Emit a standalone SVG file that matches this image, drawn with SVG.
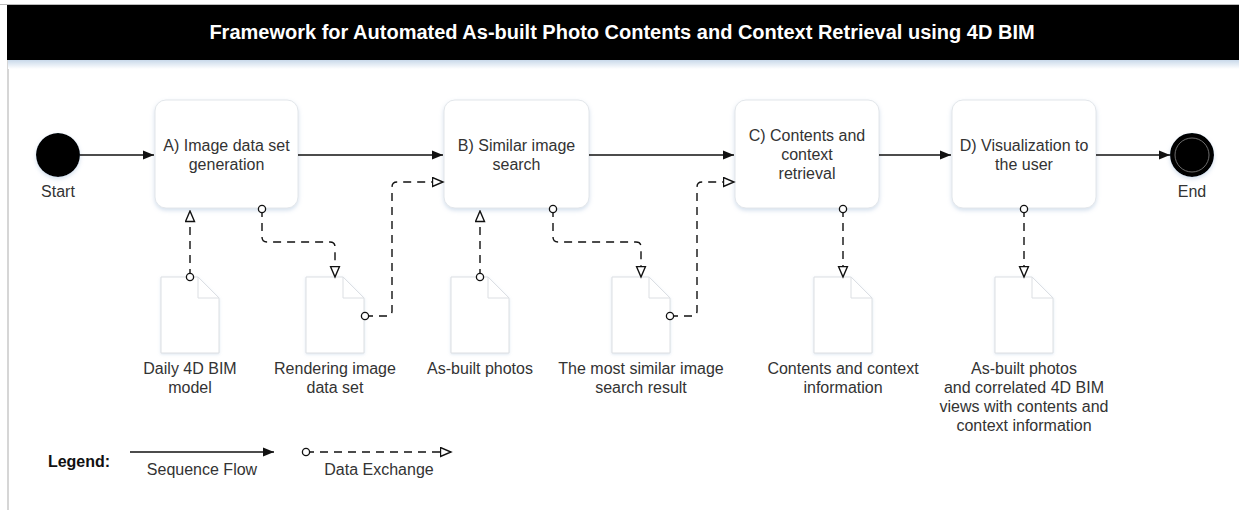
<svg xmlns="http://www.w3.org/2000/svg" width="1239" height="510" viewBox="0 0 1239 510">
<style>
  text { font-family: "Liberation Sans", Arial, sans-serif; fill: #333; font-size: 16px; text-anchor: middle; }
  .title { fill: #fff; font-weight: bold; font-size: 20px; }
  .task { fill: #fff; stroke: #e2e6ea; stroke-width: 1; filter: url(#sh); }
  .doc { fill: #fff; stroke: #dcdfe3; stroke-width: 1; filter: url(#sh2); }
  .fold { fill: none; stroke: #dcdfe3; stroke-width: 1; }
  .seq { fill: none; stroke: #111; stroke-width: 1.6; marker-end: url(#filled); }
  .data { fill: none; stroke: #111; stroke-width: 1.4; stroke-dasharray: 8 6; marker-start: url(#dot); marker-end: url(#hollow); }
  .bold { font-weight: bold; fill: #111; }
</style>
<defs>
  <filter id="sh" x="-10%" y="-10%" width="120%" height="130%">
    <feDropShadow dx="0" dy="2" stdDeviation="2" flood-color="#9db8d6" flood-opacity="0.45"/>
  </filter>
  <filter id="sh2" x="-10%" y="-10%" width="120%" height="130%">
    <feDropShadow dx="0" dy="1" stdDeviation="1.5" flood-color="#9db8d6" flood-opacity="0.35"/>
  </filter>
  <linearGradient id="bargrad" x1="0" y1="0" x2="0" y2="1">
    <stop offset="0" stop-color="#c9d9ea"/>
    <stop offset="1" stop-color="#ffffff"/>
  </linearGradient>
  <marker id="filled" markerUnits="userSpaceOnUse" markerWidth="12" markerHeight="10" refX="11" refY="5" orient="auto">
    <path d="M0,0.5 L11,5 L0,9.5 Z" fill="#111"/>
  </marker>
  <marker id="hollow" markerUnits="userSpaceOnUse" markerWidth="13" markerHeight="12" refX="11.5" refY="5.5" orient="auto">
    <path d="M1,1 L11.5,5.5 L1,10 Z" fill="#fff" stroke="#111" stroke-width="1.4"/>
  </marker>
  <marker id="dot" markerUnits="userSpaceOnUse" markerWidth="10" markerHeight="10" refX="5" refY="5" orient="auto">
    <circle cx="5" cy="5" r="3.6" fill="#fff" stroke="#111" stroke-width="1.3"/>
  </marker>
</defs>

<rect x="0" y="0" width="1239" height="510" fill="#fff"/>

<!-- frame and title bar -->
<g id="frame">
  <line x1="0" y1="4.5" x2="1239" y2="4.5" stroke="#bbb" stroke-width="1"/>
  <line x1="8" y1="5" x2="8" y2="510" stroke="#bbb" stroke-width="1.2"/>
  <rect x="8" y="60" width="1231" height="9" fill="url(#bargrad)"/>
  <rect x="7" y="5" width="1232" height="55" fill="#000"/>
  <text class="title" x="622" y="38.5">Framework for Automated As-built Photo Contents and Context Retrieval using 4D BIM</text>
</g>

<!-- events -->
<g id="start">
  <circle cx="58" cy="155" r="22" fill="#000" filter="url(#sh)"/>
  <text x="58" y="196.5">Start</text>
</g>
<g id="end">
  <circle cx="1192" cy="155" r="21" fill="#000" stroke="#000" stroke-width="2" filter="url(#sh)"/>
  <circle cx="1192" cy="155" r="17" fill="none" stroke="#888" stroke-width="0.8"/>
  <text x="1192" y="196.5">End</text>
</g>

<!-- tasks -->
<g id="taskA">
  <rect class="task" x="155" y="100" width="143" height="108" rx="11"/>
  <text x="226.5" y="150.5">A) Image data set</text>
  <text x="226.5" y="169.5">generation</text>
</g>
<g id="taskB">
  <rect class="task" x="444" y="100" width="145" height="108" rx="11"/>
  <text x="516.5" y="150.5">B) Similar image</text>
  <text x="516.5" y="169.5">search</text>
</g>
<g id="taskC">
  <rect class="task" x="735" y="100" width="144" height="108" rx="11"/>
  <text x="807" y="140.5">C) Contents and</text>
  <text x="807" y="159.5">context</text>
  <text x="807" y="178.5">retrieval</text>
</g>
<g id="taskD">
  <rect class="task" x="952" y="100" width="144" height="108" rx="11"/>
  <text x="1024" y="150.5">D) Visualization to</text>
  <text x="1024" y="169.5">the user</text>
</g>

<!-- data objects -->
<g id="doc1">
  <path class="doc" d="M161,277 H198 L219,298 V353 H161 Z"/>
  <path class="fold" d="M198,277 V298 H219"/>
  <text x="190" y="374">Daily 4D BIM</text>
  <text x="190" y="393">model</text>
</g>
<g id="doc2">
  <path class="doc" d="M306,277 H343 L364,298 V353 H306 Z"/>
  <path class="fold" d="M343,277 V298 H364"/>
  <text x="335" y="374">Rendering image</text>
  <text x="335" y="393">data set</text>
</g>
<g id="doc3">
  <path class="doc" d="M451,277 H488 L509,298 V353 H451 Z"/>
  <path class="fold" d="M488,277 V298 H509"/>
  <text x="480" y="374">As-built photos</text>
</g>
<g id="doc4">
  <path class="doc" d="M612,277 H649 L670,298 V353 H612 Z"/>
  <path class="fold" d="M649,277 V298 H670"/>
  <text x="641" y="374">The most similar image</text>
  <text x="641" y="393">search result</text>
</g>
<g id="doc5">
  <path class="doc" d="M814,277 H851 L872,298 V353 H814 Z"/>
  <path class="fold" d="M851,277 V298 H872"/>
  <text x="843" y="374">Contents and context</text>
  <text x="843" y="393">information</text>
</g>
<g id="doc6">
  <path class="doc" d="M995,277 H1032 L1053,298 V353 H995 Z"/>
  <path class="fold" d="M1032,277 V298 H1053"/>
  <text x="1024" y="374">As-built photos</text>
  <text x="1024" y="393">and correlated 4D BIM</text>
  <text x="1024" y="412">views with contents and</text>
  <text x="1024" y="431">context information</text>
</g>

<!-- connectors -->
<g id="connectors">
  <path class="seq" d="M80,155 H154"/>
  <path class="seq" d="M298,155 H443"/>
  <path class="seq" d="M589,155 H734"/>
  <path class="seq" d="M879,155 H951"/>
  <path class="seq" d="M1096,155 H1170"/>

  <path class="data" d="M190,277 V211"/>
  <path class="data" d="M262,209 V237 Q262,242 267,242 H330 Q335,242 335,247 V277"/>
  <path class="data" d="M365,316 H387 Q392,316 392,311 V187 Q392,182 397,182 H443"/>
  <path class="data" d="M480,277 V211"/>
  <path class="data" d="M553,209 V237 Q553,242 558,242 H636 Q641,242 641,247 V277"/>
  <path class="data" d="M670,316 H692 Q697,316 697,311 V187 Q697,182 702,182 H734"/>
  <path class="data" d="M843,209 V277"/>
  <path class="data" d="M1024,209 V277"/>
</g>

<!-- legend -->
<g id="legend">
  <text class="bold" x="79" y="467">Legend:</text>
  <path class="seq" d="M130,452 H274"/>
  <text x="202" y="475">Sequence Flow</text>
  <path class="data" d="M306,452 H451"/>
  <text x="379" y="475">Data Exchange</text>
</g>
</svg>
